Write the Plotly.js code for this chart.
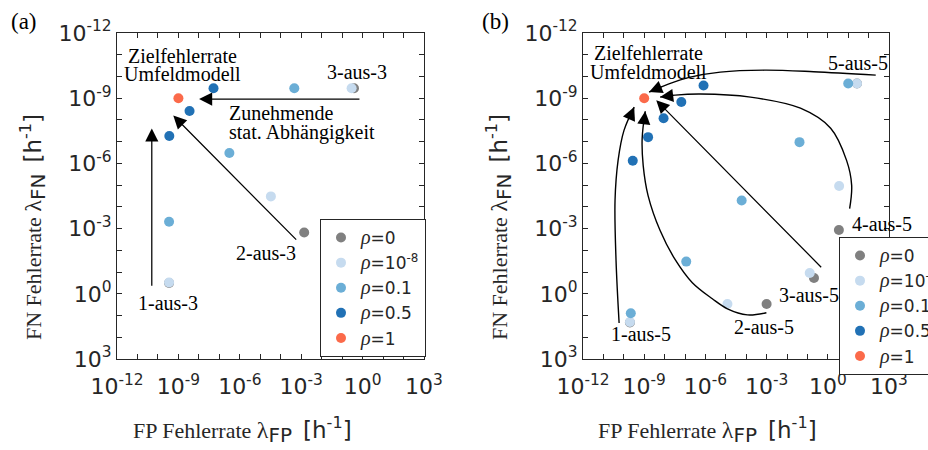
<!DOCTYPE html>
<html><head><meta charset="utf-8">
<script src="https://cdn.plot.ly/plotly-3.0.1.min.js"></script>
<style>html,body{margin:0;padding:0;background:#fff}#chart{width:928px;height:450px}</style>
</head><body><div id="chart"></div>
<script>
// ---------- data ----------
const seriesNames = ['ρ=0', 'ρ=10^-8', 'ρ=0.1', 'ρ=0.5', 'ρ=1'];
const configsA = ['1-aus-3', '2-aus-3', '3-aus-3'];
const configsB = ['1-aus-5', '2-aus-5', '3-aus-5', '4-aus-5', '5-aus-5'];

// Panel (a): FP rate (x) and FN rate (y) per configuration
const fpA_rho0   = [3.5e-10, 1.4e-3, 0.38];
const fnA_rho0   = [0.32, 1.5e-3, 3.5e-10];
const fpA_rho1e8 = [3.5e-10, 3.3e-5, 0.29];
const fnA_rho1e8 = [0.30, 3.3e-5, 3.5e-10];
const fpA_rho01  = [3.5e-10, 3.1e-7, 4.6e-4];
const fnA_rho01  = [4.8e-4, 3.3e-7, 3.5e-10];
const fpA_rho05  = [3.6e-10, 3.5e-9, 5.2e-8];
const fnA_rho05  = [5.5e-8, 3.9e-9, 3.5e-10];
const fpA_rho1   = [1e-9];
const fnA_rho1   = [1e-9];

// Panel (b)
const fpB_rho0   = [2.0e-10, 1.0e-3, 0.21, 3.5, 27];
const fnB_rho0   = [21, 2.95, 0.186, 1.15e-3, 2.1e-10];
const fpB_rho1e8 = [2.0e-10, 1.2e-5, 0.13, 3.6, 27];
const fnB_rho1e8 = [20, 2.95, 0.11, 1.1e-5, 2.1e-10];
const fpB_rho01  = [2.2e-10, 1.15e-7, 6.0e-5, 0.041, 10];
const fnB_rho01  = [7.8, 0.033, 5.1e-5, 1.05e-7, 2.1e-10];
const fpB_rho05  = [2.75e-10, 1.55e-9, 8.9e-9, 6.6e-8, 8.1e-7];
const fnB_rho05  = [7.6e-7, 6.2e-8, 8.3e-9, 1.5e-9, 2.6e-10];
const fpB_rho1   = [1e-9];
const fnB_rho1   = [1e-9];

const tickValues = [1e-12,1e-11,1e-10,1e-9,1e-8,1e-7,1e-6,1e-5,1e-4,1e-3,1e-2,1e-1,1,10,100,1000];
const tickLabels = ['10<sup>-12</sup>','','','10<sup>-9</sup>','','','10<sup>-6</sup>','','','10<sup>-3</sup>','','','10<sup>0</sup>','','','10<sup>3</sup>'];

// ---------- styles ----------
const colors = ['#808080', '#c6dbef', '#6baed6', '#2171b5', '#fb6a4a'];
const SANS = 'DejaVu Sans, Verdana, sans-serif';
const SERIF = 'Liberation Serif, Times New Roman, serif';
const AXC = '#262626';

function legendName(n) {
  const rest = n.slice(1).replace('^-8', '<sup>-8</sup>');
  return '<span style="font-family:Liberation Serif;font-size:20px"><i>ρ</i></span>' + rest;
}

const seriesA = [[fpA_rho0, fnA_rho0], [fpA_rho1e8, fnA_rho1e8], [fpA_rho01, fnA_rho01], [fpA_rho05, fnA_rho05], [fpA_rho1, fnA_rho1]];
const seriesB = [[fpB_rho0, fnB_rho0], [fpB_rho1e8, fnB_rho1e8], [fpB_rho01, fnB_rho01], [fpB_rho05, fnB_rho05], [fpB_rho1, fnB_rho1]];

const traces = [];
seriesA.forEach((s, i) => traces.push({
  x: s[0], y: s[1], xaxis: 'x', yaxis: 'y', type: 'scatter', mode: 'markers',
  name: legendName(seriesNames[i]), legend: 'legend',
  marker: {size: 10, color: colors[i], line: {width: 0}}, hoverinfo: 'skip'
}));
seriesB.forEach((s, i) => traces.push({
  x: s[0], y: s[1], xaxis: 'x2', yaxis: 'y2', type: 'scatter', mode: 'markers',
  name: legendName(seriesNames[i]), legend: 'legend2',
  marker: {size: 10, color: colors[i], line: {width: 0}}, hoverinfo: 'skip'
}));

// curved arrows of panel (b), waypoints in log10 coordinates [x, y]
const curves = [
  {pts: [[-10.23,1.34],[-10.38,-1.52],[-10.43,-4.29],[-10.28,-6.14],[-9.99,-7.52],[-9.49,-8.59]], ax: -5.6, ay: 12.9},
  {pts: [[-3.01,0.87],[-3.94,0.97],[-4.92,0.69],[-5.66,0.23],[-6.64,-0.51],[-7.48,-1.57],[-8.22,-2.91],[-8.81,-4.52],[-9.05,-5.91],[-9.10,-7.15],[-8.95,-8.40]], ax: -1.5, ay: 13.9},
  {pts: [[1.07,-3.92],[1.17,-4.99],[0.92,-6.14],[0.14,-7.62],[-1.34,-8.54],[-3.79,-9.05],[-6.25,-9.19],[-7.48,-9.14],[-8.22,-9.05]], ax: 13.9, ay: -1.8},
  {pts: [[2.35,-10.06],[-0.70,-10.22],[-3.11,-10.29],[-5.27,-10.20],[-6.74,-9.97],[-7.82,-9.65],[-8.76,-9.28]], ax: 12.9, ay: -5.4}
];
const HEAD = {arrowhead: 2, arrowsize: 2.1, arrowwidth: 1.25, arrowcolor: 'black'};
const annotations = [];
curves.forEach(c => {
  traces.push({
    x: c.pts.map(p => Math.pow(10, p[0])), y: c.pts.map(p => Math.pow(10, p[1])),
    xaxis: 'x2', yaxis: 'y2', type: 'scatter', mode: 'lines', showlegend: false, hoverinfo: 'skip',
    line: {color: 'black', width: 1.4, shape: 'spline', smoothing: 1}
  });
  const tip = c.pts[c.pts.length - 1];
  annotations.push(Object.assign({xref: 'x2', yref: 'y2', x: tip[0], y: tip[1], ax: c.ax, ay: c.ay, text: ' ',
    font: {size: 1}, borderpad: 0, showarrow: true}, HEAD));
});

// straight arrows
function arrow(xr, yr, x, y, ax, ay) {
  return Object.assign({xref: xr, yref: yr, axref: xr, ayref: yr, x: x, y: y, ax: ax, ay: ay, text: ' ', font: {size: 1}, borderpad: 0,
    showarrow: true}, HEAD);
}
annotations.push(arrow('x', 'y', -10.30, -7.61, -10.30, -0.33));
annotations.push(arrow('x', 'y', -9.25, -8.20, -3.22, -2.47));
annotations.push(arrow('x', 'y', -7.99, -8.96, -0.13, -8.96));
annotations.push(arrow('x2', 'y2', -8.41, -8.91, -0.30, -1.20));

// text labels
function label(xr, yr, x, y, text, xanchor) {
  return {xref: xr, yref: yr, x: x, y: y, text: text, showarrow: false, xanchor: xanchor || 'center', yanchor: 'middle',
    font: {family: SERIF, size: 20, color: 'black'}, borderpad: 0};
}
annotations.push(label('x', 'y', -8.78, -10.96, 'Zielfehlerrate'));
annotations.push(label('x', 'y', -8.78, -10.11, 'Umfeldmodell'));
annotations.push(label('x', 'y', -0.29, -10.21, '3-aus-3'));
annotations.push(label('x', 'y', -6.59, -8.32, 'Zunehmende', 'left'));
annotations.push(label('x', 'y', -6.59, -7.44, 'stat. Abhängigkeit', 'left'));
annotations.push(label('x', 'y', -4.72, -1.88, '2-aus-3'));
annotations.push(label('x', 'y', -9.51, 0.43, '1-aus-3'));

annotations.push(label('x2', 'y2', -8.80, -11.10, 'Zielfehlerrate'));
annotations.push(label('x2', 'y2', -8.80, -10.21, 'Umfeldmodell'));
annotations.push(label('x2', 'y2', 1.46, -10.60, '5-aus-5'));
annotations.push(label('x2', 'y2', 1.12, -3.19, '4-aus-5', 'left'));
annotations.push(label('x2', 'y2', -0.94, 0.04, '3-aus-5'));
annotations.push(label('x2', 'y2', -3.11, 1.55, '2-aus-5'));
annotations.push(label('x2', 'y2', -9.15, 1.84, '1-aus-5'));

// panel letters
annotations.push({xref: 'paper', yref: 'paper', x: 10/928, y: 1 - 8/450, xanchor: 'left', yanchor: 'top', text: '(a)', showarrow: false,
  borderpad: 0, font: {family: SERIF, size: 23, color: 'black'}});
annotations.push({xref: 'paper', yref: 'paper', x: 481/928, y: 1 - 8/450, xanchor: 'left', yanchor: 'top', text: '(b)', showarrow: false,
  borderpad: 0, font: {family: SERIF, size: 23, color: 'black'}});

// axis titles
const SANSSPAN = 'font-family:DejaVu Sans';
function axTitle(v) {
  return v + ' Fehlerrate <span style="font-size:24px">λ</span><sub><span style="' + SANSSPAN + ';font-size:20px">' + v +
    '</span></sub>  <span style="' + SANSSPAN + ';font-size:23px">[h<sup>-1</sup>]</span>';
}
const xTitle = axTitle('FP');
const yTitle = axTitle('FN');
[[242.5, 33], [707.8, 499]].forEach(p => {
  annotations.push({xref: 'paper', yref: 'paper', x: p[0]/928, y: 1 - 430/450, text: xTitle, showarrow: false,
    xanchor: 'center', yanchor: 'middle', font: {family: SERIF, size: 22, color: AXC}});
  annotations.push({xref: 'paper', yref: 'paper', x: p[1]/928, y: 1 - 227/450, text: yTitle, showarrow: false,
    textangle: -90, xanchor: 'center', yanchor: 'middle', font: {family: SERIF, size: 22, color: AXC}});
});

function axis(domain, anchor, isY) {
  const a = {
    type: 'log', domain: domain, anchor: anchor, range: isY ? [3, -12] : [-12, 3], autorange: false,
    tickmode: 'array', tickvals: tickValues, ticktext: tickLabels,
    ticks: 'inside', ticklen: 5, tickwidth: 1, tickcolor: AXC,
    showline: true, linecolor: AXC, linewidth: 1, mirror: 'ticks',
    showgrid: false, zeroline: false,
    tickfont: {family: SANS, size: 22, color: AXC}
  };
  if (!isY) a.ticklabelstandoff = 8;
  return a;
}
const yDom = [1 - 359/450, 1 - 33/450];
const legendStyle = {xanchor: 'left', yanchor: 'top', bgcolor: 'white', bordercolor: AXC, borderwidth: 1,
  font: {family: SANS, size: 17, color: AXC}, itemclick: false, itemdoubleclick: false};

const layout = {
  width: 928, height: 450, paper_bgcolor: 'white', plot_bgcolor: 'white',
  margin: {l: 0, r: 0, t: 0, b: 0, autoexpand: false},
  showlegend: true,
  xaxis: axis([117/928, 424/928], 'y', false),
  yaxis: axis(yDom, 'x', true),
  xaxis2: axis([583/928, 889/928], 'y2', false),
  yaxis2: axis(yDom, 'x2', true),
  legend: Object.assign({x: 320/928, y: 1 - 219/450}, legendStyle),
  legend2: Object.assign({x: 839/928, y: 1 - 237/450}, legendStyle),
  annotations: annotations
};

Plotly.newPlot('chart', traces, layout, {staticPlot: true, displayModeBar: false});
</script>
</body></html>
